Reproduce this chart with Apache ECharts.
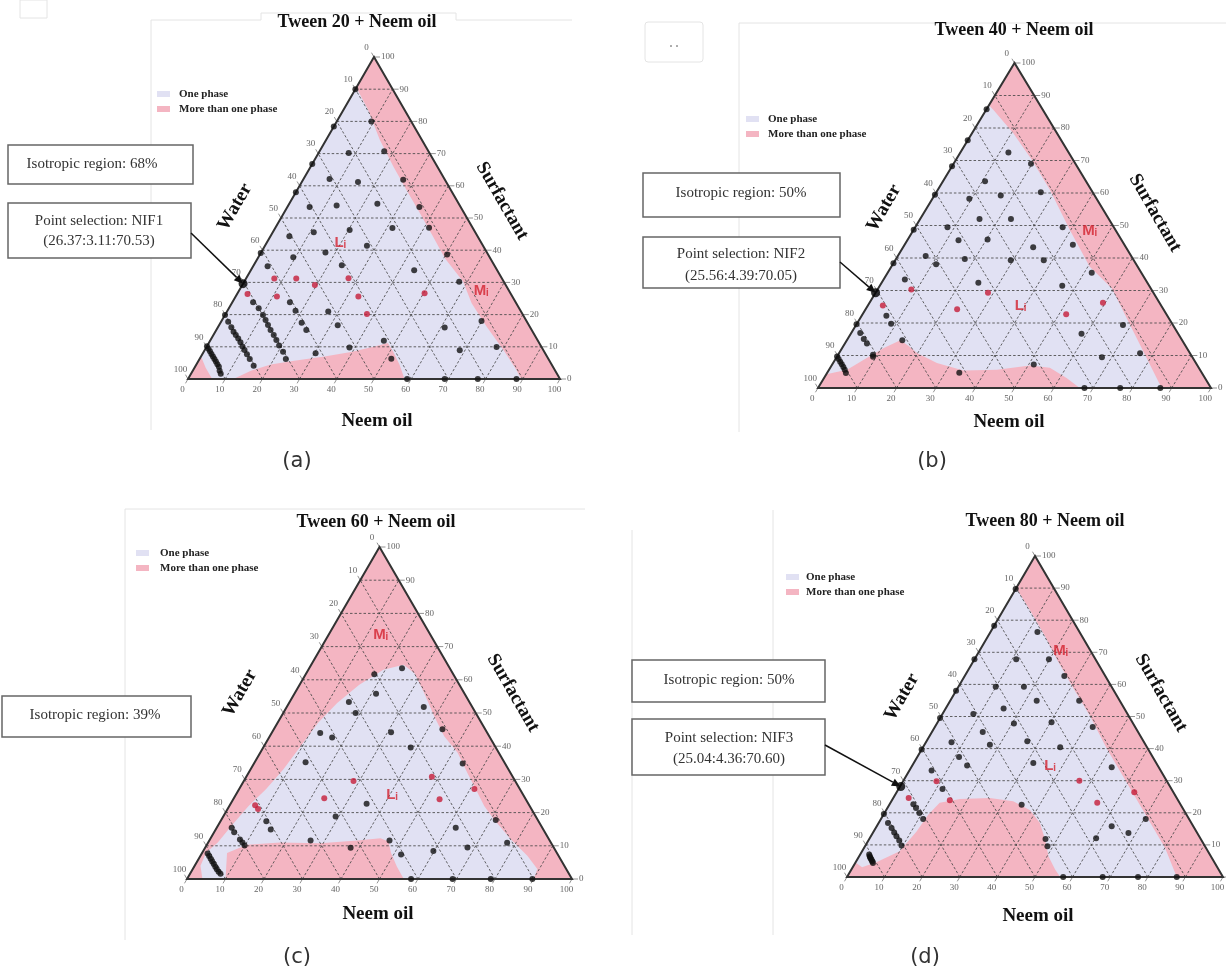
<!DOCTYPE html>
<html>
<head>
<meta charset="utf-8">
<script src="https://cdn.jsdelivr.net/npm/echarts/dist/echarts.min.js"></script>
<style>
  html, body { margin: 0; padding: 0; background: #ffffff; }
  #main { width: 1226px; height: 976px; }
</style>
</head>
<body>
<div id="main"></div>
<script>
// ---- shared axis data (all compositions are [neem oil %, surfactant %], water = 100 - both) ----
const tickValues = [0, 10, 20, 30, 40, 50, 60, 70, 80, 90, 100];
const cornerVertices = [[0, 0], [100, 0], [0, 100]];

// ---- (a) Tween 20 ----
const titleA = 'Tween 20 + Neem oil';
const onePhaseA = [[0,90.5],[0,7],[3,3.5],[6.5,0],[12.2,0],[15.6,2.6],[20,4.5],[25.7,5.7],[33.2,7],[39.6,8.4],[45.1,10.1],[48.1,11.2],[50.8,8.6],[54.6,4.5],[58.2,0],[89.5,0],[86.9,2.8],[80.3,9],[72.1,16.3],[64.5,23.5],[58.8,30.3],[50.3,37.5],[43.8,44.2],[36.6,51.5],[29.3,58.8],[22.2,66],[14.4,74.3],[6.6,83.6]];
const blackA = [[0,90],[0,78.4],[9.3,80],[8.1,70.2],[17.4,70.7],[0,66.8],[7,62.1],[15.1,61.2],[26.9,61.9],[0,58],[6,53.4],[13,53.9],[23.7,54.4],[35.5,53.4],[5.1,44.3],[11,45.6],[20.3,46.3],[31.5,46.9],[41.3,47],[0,39.1],[9.4,37.8],[17.3,39.3],[27.4,41.4],[50.3,38.7],[3.9,35],[23.7,35.3],[43.9,33.8],[57.8,30.2],
  [0,19.9],[1.9,17.8],[3.6,16.1],[4.9,14.7],[6,13.7],[7.2,12.6],[8.4,11.4],[9.6,10.1],[10.7,9],[12,7.7],[13.5,6.2],[15.6,4.1],
  [0,10.2],[0.8,9.4],[1.6,8.6],[2.4,7.8],[3.2,7],[4,6.2],[4.8,5.4],[5.6,4.6],[6.4,3.8],[7.2,2.6],[8,1.6],
  [5.6,23.8],[8,22],[10.2,19.9],[11.7,18.3],[13.1,16.8],[14.6,15.2],[16.2,13.7],[17.7,12.1],[19.3,10.4],[21.3,8.5],[23.2,6.2],
  [15.5,23.8],[18.3,21.2],[21.8,17.5],[24.2,15.2],[30.3,8],
  [27.2,21],[31.9,16.7],[38.5,9.8],[46.7,11.9],[51.5,6.3],[61,16],[68.6,8.9],[69.9,18],[78,9.9],
  [58.9,0],[69,0],[77.9,0],[88.3,0]];
const redA = [[7.6,31.2],[13.5,31.2],[19.5,29.2],[27.5,31.3],[2.8,26.4],[11.1,25.6],[33,25.6],[38,20.2],[50.3,26.6]];
const selectedA = [[0,29.6]];
const tagsA = [['Lᵢ',19.8,42.2],['Mᵢ',65,27.5]];
const isoTextA = 'Isotropic region: 68%';
const selTextA = ['Point selection: NIF1', '(26.37:3.11:70.53)'];

// ---- (b) Tween 40 ----
const titleB = 'Tween 40 + Neem oil';
const onePhaseB = [[0,87],[0,4.2],[4.6,5.6],[7.3,8.7],[10.6,12.3],[13.6,14.7],[16.5,13],[19.8,10.8],[26.4,7.7],[34.3,5.4],[42.7,5.6],[50.5,6.9],[55.9,6.2],[61.7,3.1],[66.6,0],[87.5,0],[85.8,1.8],[78.3,10],[69.8,19.3],[59.5,30.6],[50.4,37.4],[39.7,48.7],[28.5,61],[19.2,70.3],[10.4,78.5],[1.8,85.6]];
const blackB = [[0,85.8],[0,76.2],[12.2,72.5],[19.7,69],[0,68.2],[10.7,63.6],[26.6,60.2],[0,59.5],[16.9,59.2],[9.4,58.2],[15.1,52],[23.1,52],[8.2,49.5],[0,48.7],[37.5,49.5],[13,45.5],[20.3,45.7],[33.1,43.3],[42.8,44.1],[0,38.4],[7.1,40.6],[11,38.1],[17.5,39.7],[29.4,39.3],[37.8,39.3],[51.9,35.5],[24.6,32.4],[46.4,31.5],[5.4,33.4],
  [6.3,22.2],[8.7,19.8],[0,19.6],[2.3,16.9],[4.1,15.1],[5.6,13.7],[8.9,10.2],[9.2,9.6],
  [0,9.7],[0.8,8.9],[1.6,8.1],[2.4,7.3],[3.2,6.5],[4,5.6],[4.8,4.6],
  [14.1,14.7],[33.6,4.7],[51.3,7.2],[58.7,16.7],[67.5,9.5],[67.9,19.4],[76.6,10.7],
  [67.8,0],[76.9,0],[87.1,0]];
const redB = [[8.6,30.3],[28.6,29.3],[3.8,25.4],[23.3,24.2],[51.8,22.7],[59.4,26.2]];
const selectedB = [[0,29.3]];
const tagsB = [['Lᵢ',38.8,25.4],['Mᵢ',45,48.2]];
const isoTextB = 'Isotropic region: 50%';
const selTextB = ['Point selection: NIF2', '(25.56:4.39:70.05)'];

// ---- (c) Tween 60 ----
const titleC = 'Tween 60 + Neem oil';
const onePhaseC = [[24,64.5],[28.1,62],[33.6,56],[39.7,49],[45.3,43],[51.3,38],[56.8,32],[61.5,27],[66.2,22],[70.7,18],[78.1,12],[84.9,7],[89.5,3],[90.1,0],[56.3,0],[52.6,3.8],[49.1,7.8],[46.7,11.3],[44.1,12.3],[38.4,11.6],[29.2,10.8],[18.7,11],[10.4,10.3],[6.5,7.8],[10,0],[4,0],[1.5,4],[1,8],[2.5,11],[3.5,16],[5,22],[7,27],[8.5,33],[9.5,40],[10.5,47],[12.5,53],[15.5,58.5],[19.5,63]];
const blackC = [[24.1,63.5],[17.8,61.7],[21.2,55.8],[15.4,53.3],[18.8,50],[35.6,51.8],[12.6,44],[16.4,42.6],[30.9,44.2],[43.8,45.1],[38.3,39.6],[13.2,35.2],[54.2,34.8],[35.3,22.7],[29.2,18.8],[71.3,17.8],[62.1,15.4],[26.3,11.6],[37.8,9.4],[46.8,11.6],[51.9,7.4],[59.8,8.4],[68.1,9.5],[77.7,10.9],
  [11.9,17.4],[14.3,14.9],
  [3.9,15.4],[5.2,14.1],[7.8,11.9],[8.9,11],[9.9,10.1],
  [1.5,7.7],[2.3,6.9],[3.1,6.1],[3.9,5.3],[4.7,4.5],[5.5,3.7],[6.3,2.9],[7.1,2.2],[7.9,1.6],
  [58.2,0],[69,0],[78.9,0],[89.7,0]];
const redC = [[6.6,22.2],[7.9,21.1],[23.5,24.3],[28.5,29.5],[48.2,30.8],[53.6,24],[61.1,27.1]];
const selectedC = [];
const tagsC = [['Mᵢ',13.5,73.5],['Lᵢ',40.6,25.3]];
const isoTextC = 'Isotropic region: 39%';

// ---- (d) Tween 80 ----
const titleD = 'Tween 80 + Neem oil';
const onePhaseD = [[0,90],[0,4.5],[2.5,3],[5.5,4.6],[10,8],[11.4,14.2],[11.9,19.4],[13.1,23.1],[17.9,24.3],[25.7,24.6],[32.4,23.6],[38.3,20.8],[42.9,16.8],[46.9,11.6],[50.4,6.4],[54.2,2.3],[56.7,0],[87.7,0],[80.1,9],[67.7,21.4],[57.4,31.7],[49.2,39.9],[39.4,50.3],[30.1,59.5],[21.9,67.8],[15.2,75],[6.9,83.3]];
const blackD = [[0,89.7],[0,78.3],[12.5,76.3],[0,67.8],[11.1,67.8],[19.8,67.8],[26.5,62.6],[0,58],[9.9,59.3],[17.4,59.3],[23,54.9],[34.3,54.9],[15.4,52.5],[8.2,50.8],[0,49.5],
  [20.5,47.8],[30.3,48.2],[42,46.7],[13.5,45.2],[26.8,42.3],[6.8,42],[17.4,41.2],[36.5,40.4],[0,39.7],[11.1,37.4],[31.8,35.5],[53.3,34.2],[14.6,34.7],[5.9,33.2],[11.7,27.4],
  [6.3,22.7],[7.6,21.5],[9.3,19.9],[11.2,18.1],
  [0,19.6],[2.5,16.8],[4.2,15.3],[5.6,13.9],[6.8,12.7],[8.2,11.4],[9.6,9.8],
  [2.4,7],[2.8,6.5],[3.1,6.1],[3.5,5.7],[3.9,5.3],[4.3,4.8],[4.7,4.4],
  [35.2,22.5],[46.9,11.8],[48.5,9.6],[62.5,15.8],[60.2,12.1],[68,13.7],[70.4,18.1],
  [57.5,0],[68,0],[77.4,0],[87.7,0]];
const redD = [[8.9,29.8],[4.1,24.6],[15.4,23.9],[46.8,30],[55,23.1],[63.2,26.4]];
const selectedD = [[0.2,28.2]];
const tagsD = [['Mᵢ',21.6,70.4],['Lᵢ',36.7,34.5]];
const isoTextD = 'Isotropic region: 50%';
const selTextD = ['Point selection: NIF3', '(25.04:4.36:70.60)'];

const axisNames = ['Water', 'Surfactant', 'Neem oil'];
const legendNames = ['One phase', 'More than one phase'];
const captions = ['(a)', '(b)', '(c)', '(d)'];

// ---------------- build ----------------
const PINK = '#f4b5c2';
const LAV = '#e1e1f3';
const tern = p => [p[0] + p[1] / 2, p[1]];

const panels = [
  { title: titleA, onePhase: onePhaseA, black: blackA, red: redA, sel: selectedA, tags: tagsA, iso: isoTextA, selText: selTextA },
  { title: titleB, onePhase: onePhaseB, black: blackB, red: redB, sel: selectedB, tags: tagsB, iso: isoTextB, selText: selTextB },
  { title: titleC, onePhase: onePhaseC, black: blackC, red: redC, sel: selectedC, tags: tagsC, iso: isoTextC, selText: null },
  { title: titleD, onePhase: onePhaseD, black: blackD, red: redD, sel: selectedD, tags: tagsD, iso: isoTextD, selText: selTextD }
];

// layout (pixel positions of page furniture)
const layout = [
  { grid: [188, 57, 372, 322], title: [357, 22], water: [235, 207], surf: [502, 201], oil: [377, 421], leg: [157, 94], legTx: 179,
    cap: [297, 462], iso: { box: [8, 145, 185, 39], t: [92, 164.5] }, sel: { box: [8, 203, 183, 55], t: [99, 221, 241] }, arrow: [191, 233] },
  { grid: [818, 63, 393, 325], title: [1014, 30], water: [884, 208], surf: [1155, 213], oil: [1009, 422], leg: [746, 119], legTx: 768,
    cap: [932, 462], iso: { box: [643, 173, 197, 44], t: [741, 193] }, sel: { box: [643, 237, 197, 51], t: [741, 254, 276] }, arrow: [840, 262] },
  { grid: [187, 547, 385, 332], title: [376, 522], water: [240, 693], surf: [513, 693], oil: [378, 914], leg: [136, 553], legTx: 160,
    cap: [297, 958], iso: { box: [2, 696, 189, 41], t: [95, 715] }, sel: null, arrow: null },
  { grid: [847, 556, 376, 321], title: [1045, 521], water: [902, 697], surf: [1161, 693], oil: [1038, 916], leg: [786, 577], legTx: 806,
    cap: [925, 958], iso: { box: [632, 660, 193, 42], t: [729, 680] }, sel: { box: [632, 719, 193, 56], t: [729, 738, 759] }, arrow: [825, 745] }
];

const chart = echarts.init(document.getElementById('main'));

const option = {
  backgroundColor: '#ffffff',
  animation: false,
  grid: layout.map(l => ({ left: l.grid[0], top: l.grid[1], width: l.grid[2], height: l.grid[3], show: false, containLabel: false, outerBoundsMode: 'none' })),
  xAxis: layout.map((l, i) => ({ type: 'value', gridIndex: i, min: 0, max: 100, show: false })),
  yAxis: layout.map((l, i) => ({ type: 'value', gridIndex: i, min: 0, max: 100, show: false })),
  series: []
};

function textEl(x, y, text, size, family, weight, fill, align) {
  return { type: 'text', x: x, y: y,
    style: { text: text, fill: fill, fontSize: size, fontFamily: family, fontWeight: weight,
      align: align, verticalAlign: 'middle', textAlign: align, textVerticalAlign: 'middle' } };
}

panels.forEach((p, i) => {
  // phase regions
  option.series.push({
    type: 'custom', xAxisIndex: i, yAxisIndex: i, z: 1, silent: true, clip: false,
    data: [[50, 50]],
    renderItem: function (params, api) {
      const tri = cornerVertices.map(v => api.coord(tern(v)));
      const one = p.onePhase.map(v => api.coord(tern(v)));
      return { type: 'group', children: [
        { type: 'polygon', shape: { points: tri }, style: { fill: PINK } },
        { type: 'polygon', shape: { points: one }, style: { fill: LAV } }
      ] };
    }
  });
  // grid lines, ticks, tick labels
  option.series.push({
    type: 'custom', xAxisIndex: i, yAxisIndex: i, z: 2, silent: true, clip: false,
    data: tickValues.map(v => [v, v]),
    renderItem: function (params, api) {
      const v = tickValues[params.dataIndex];
      const P = (o, s) => api.coord(tern([o, s]));
      const top = P(0, 100), bl = P(0, 0), br = P(100, 0);
      const unit = (a, b) => { const dx = b[0] - a[0], dy = b[1] - a[1], L = Math.hypot(dx, dy); return [dx / L, dy / L]; };
      const uW = unit(br, top);   // outward along constant-water lines (up-left)
      const uO = unit(top, bl);   // outward along constant-oil lines (down-left)
      const dash = { stroke: '#474747', lineWidth: 0.85, lineDash: [2.5, 2], fill: null };
      const tick = { stroke: '#777', lineWidth: 0.8, fill: null };
      const ch = [];
      const seg = (a, b, st) => ch.push({ type: 'line', shape: { x1: a[0], y1: a[1], x2: b[0], y2: b[1] }, style: st });
      if (v > 0 && v < 100) {
        seg(P(0, v), P(100 - v, v), dash);
        seg(P(v, 0), P(v, 100 - v), dash);
        seg(P(100 - v, 0), P(0, 100 - v), dash);
      }
      const lab = (x, y, al) => ch.push(textEl(x, y, String(v), 9, 'Liberation Serif', 'normal', '#666', al));
      const R = P(100 - v, v);
      seg(R, [R[0] + 6, R[1]], tick); lab(R[0] + 7, R[1], 'left');
      const L = P(0, 100 - v);
      seg(L, [L[0] + 5 * uW[0], L[1] + 5 * uW[1]], tick); lab(L[0] + 11 * uW[0] - 2, L[1] + 11 * uW[1], 'center');
      const B = P(v, 0);
      seg(B, [B[0] + 5 * uO[0], B[1] + 5 * uO[1]], tick); lab(B[0] + 11 * uO[0], B[1] + 11 * uO[1] + 1, 'center');
      return { type: 'group', children: ch };
    }
  });
  // triangle outline
  option.series.push({
    type: 'custom', xAxisIndex: i, yAxisIndex: i, z: 3, silent: true, clip: false,
    data: [[50, 50]],
    renderItem: function (params, api) {
      const tri = cornerVertices.map(v => api.coord(tern(v)));
      return { type: 'polygon', shape: { points: tri }, style: { fill: null, stroke: '#333', lineWidth: 2 } };
    }
  });
  option.series.push({ type: 'scatter', xAxisIndex: i, yAxisIndex: i, z: 4, silent: true, symbolSize: 6,
    itemStyle: { color: '#111' }, data: p.black.map(tern) });
  option.series.push({ type: 'scatter', xAxisIndex: i, yAxisIndex: i, z: 4, silent: true, symbolSize: 6,
    itemStyle: { color: '#c51d38' }, data: p.red.map(tern) });
  if (p.sel.length) {
    option.series.push({ type: 'scatter', xAxisIndex: i, yAxisIndex: i, z: 4, silent: true, symbolSize: 9,
      itemStyle: { color: '#000' }, data: p.sel.map(tern) });
  }
  option.series.push({ type: 'scatter', xAxisIndex: i, yAxisIndex: i, z: 5, silent: true, symbolSize: 1,
    itemStyle: { color: 'transparent' },
    data: p.tags.map(t => ({ name: t[0], value: tern([t[1], t[2]]) })),
    label: { show: true, position: 'inside', formatter: '{b}', color: '#d3222e', fontSize: 15,
      fontFamily: 'Liberation Sans', fontWeight: 'bold' } });
});

chart.setOption(option);

// ---------------- page furniture (graphic) ----------------
const g = [];
const SERIF = 'Liberation Serif';
const FAINT = { stroke: '#e4e4e4', lineWidth: 1, fill: null };

// faint frames of the original figure panels
g.push({ type: 'polyline', shape: { points: [[151, 430], [151, 20], [261, 20], [261, 13], [456, 13], [456, 20], [572, 20]] }, style: FAINT });
g.push({ type: 'rect', shape: { x: 20, y: 0, width: 27, height: 18 }, style: FAINT });
g.push({ type: 'polyline', shape: { points: [[739, 432], [739, 23], [1226, 23]] }, style: FAINT });
g.push({ type: 'rect', shape: { x: 645, y: 22, width: 58, height: 40, r: 3 }, style: FAINT });
g.push(textEl(674, 44, '. .', 12, SERIF, 'bold', '#999', 'center'));
g.push({ type: 'polyline', shape: { points: [[125, 940], [125, 509], [585, 509]] }, style: FAINT });
g.push({ type: 'line', shape: { x1: 632, y1: 530, x2: 632, y2: 935 }, style: FAINT });
g.push({ type: 'line', shape: { x1: 773, y1: 510, x2: 773, y2: 935 }, style: FAINT });

layout.forEach((l, i) => {
  const p = panels[i];
  g.push(textEl(l.title[0], l.title[1], p.title, 18, SERIF, 'bold', '#111', 'center'));
  const w = textEl(l.water[0], l.water[1], axisNames[0], 19, SERIF, 'bold', '#111', 'center'); w.rotation = Math.PI / 3; g.push(w);
  const s = textEl(l.surf[0], l.surf[1], axisNames[1], 19, SERIF, 'bold', '#111', 'center'); s.rotation = -Math.PI / 3; g.push(s);
  g.push(textEl(l.oil[0], l.oil[1], axisNames[2], 19, SERIF, 'bold', '#111', 'center'));
  // legend
  g.push({ type: 'rect', shape: { x: l.leg[0], y: l.leg[1] - 3, width: 13, height: 6 }, style: { fill: LAV } });
  g.push({ type: 'rect', shape: { x: l.leg[0], y: l.leg[1] + 12, width: 13, height: 6 }, style: { fill: PINK } });
  g.push(textEl(l.legTx, l.leg[1], legendNames[0], 11, SERIF, 'bold', '#222', 'left'));
  g.push(textEl(l.legTx, l.leg[1] + 15, legendNames[1], 11, SERIF, 'bold', '#222', 'left'));
  // caption
  g.push(textEl(l.cap[0], l.cap[1], captions[i], 21, 'DejaVu Sans', 'normal', '#333', 'center'));
  // boxes
  const bx = l.iso.box;
  g.push({ type: 'rect', shape: { x: bx[0], y: bx[1], width: bx[2], height: bx[3] }, style: { fill: '#fff', stroke: '#666', lineWidth: 1.5 } });
  g.push(textEl(l.iso.t[0], l.iso.t[1], p.iso, 15, SERIF, 'normal', '#333', 'center'));
  if (l.sel) {
    const b2 = l.sel.box;
    g.push({ type: 'rect', shape: { x: b2[0], y: b2[1], width: b2[2], height: b2[3] }, style: { fill: '#fff', stroke: '#666', lineWidth: 1.5 } });
    g.push(textEl(l.sel.t[0], l.sel.t[1], p.selText[0], 15, SERIF, 'normal', '#333', 'center'));
    g.push(textEl(l.sel.t[0], l.sel.t[2], p.selText[1], 15, SERIF, 'normal', '#333', 'center'));
  }
  if (l.arrow && p.sel.length) {
    const end = chart.convertToPixel({ gridIndex: i }, tern(p.sel[0]));
    const st = l.arrow;
    const dx = end[0] - st[0], dy = end[1] - st[1], L = Math.hypot(dx, dy), ux = dx / L, uy = dy / L;
    const head = 9, hw = 4;
    const bxp = end[0] - ux * head, byp = end[1] - uy * head;
    g.push({ type: 'line', shape: { x1: st[0], y1: st[1], x2: bxp, y2: byp }, style: { stroke: '#111', lineWidth: 1.5 } });
    g.push({ type: 'polygon', shape: { points: [[end[0], end[1]], [bxp - uy * hw, byp + ux * hw], [bxp + uy * hw, byp - ux * hw]] }, style: { fill: '#111' } });
  }
});

g.forEach(e => { e.z = 100; e.silent = true; });
chart.setOption({ graphic: g });
</script>
</body>
</html>
